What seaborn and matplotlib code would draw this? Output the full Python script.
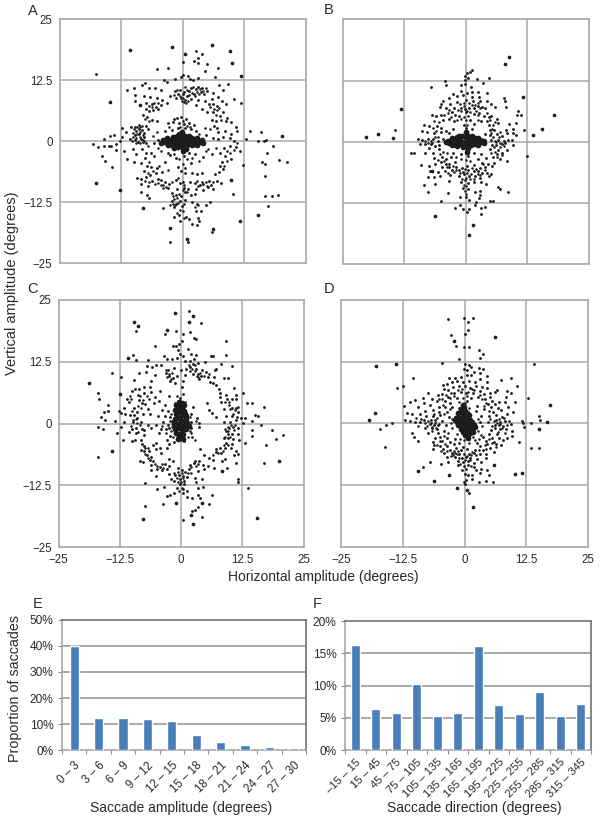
import matplotlib
matplotlib.use("Agg")
import matplotlib.pyplot as plt
import seaborn as sns
import pandas as pd

sns.set_theme(style="white")
plt.rcParams['font.family'] = ['Liberation Sans', 'DejaVu Sans']
plt.rcParams['text.color'] = '#2a2a2a'

# ---- data, degrees ----
A_core = [(-3.2,0),(-2.6,.4),(-2.6,-.5),(-2,.9),(-2,0),(-2,-.9),(-1.4,.5),(-1.4,-.4),(-1.2,1.2),(-1,-1.2),(-.8,0),(-.5,.8),(-.4,-.7),(-.2,1.5),(0,0),(0,-1.4),(.3,.7),(.4,-.6),(.6,1.2),(.8,0),(.8,-1.1),(1.2,.6),(1.3,-.5),(1.8,0),(1.9,.7),(2,-.7),(2.5,.2),(2.6,-.3),(3.1,.1),(-3.6,-.1),(3.5,-.1),(.1,-1.9),(-.1,1.9),(-4,.3),(-4.3,-.3),(3.9,.4),(4.1,-.4),(-3.1,.7),(-3,-.8),(3,.8),(3,-.8),(-.7,1.6),(.7,-1.6),(1.4,1.2),(-1.7,-1.3)]
A_big = [(-10.7,18.7),(-2.2,19.4),(-17.6,-8.5),(-12.7,-9.9),(-8,-13.7),(15.4,-15.1),(11.7,-16.2),(5.9,19.7),(9.6,18.5),(10,16),(.6,18),(11.8,13.4),(-2.6,-17.8),(1,-20),(6.1,-18),(-14.8,8),(20.2,1.2),(9.9,-7.9),(-8.6,7.4)]
A_dots = [(-17.6,13.8),(-2.9,15),(-5.1,14.8),(.1,16.3),(2.8,18.5),(3.2,17.2),(4,17.9),(2.3,16.5),(3.1,16),(4.9,15.9),(4.6,14.5),(7.2,15),(6.6,13.2),(-3.8,12.5),(-3.2,12.1),(-1.6,12.8),(-.3,13.3),(.2,13.6),(1.2,13.5),(1.5,12.8),(2.2,12.6),(3.1,13),(-7.6,12),(-9.8,11),(-8.2,11.5),(-6.8,11),(-5.6,10.9),(-4.4,10.6),(-1.6,10.4),(-1,9.8),(-.5,10.5),(0,9.8),(.4,10.2),(.9,9.3),(1.4,10.4),(1.8,10.9),(2.3,9.8),(2.7,10.8),(3.2,11.2),(3.7,10.2),(4,11),(4.4,9.7),(5,10.4),(6.3,10),(7.4,11.6),(8.3,10.5),(9.2,11.8),(10.4,8.7),(11.8,7.9),(-11.2,10.5),(-9.7,9.6),(-7.8,9.4),(-6.6,9.2),(-5.2,9),(-4.2,8.5),(-2.6,9.4),(-1.3,8.9),(-.4,8.9),(.6,8.5),(1.7,8.8),(3.1,8.6),(4.5,8.2),(5.9,8.8),(7.2,9.1),(8,8.4),(-9.6,8.2),(-7.4,7.8),(-6.2,7.6),(-5.4,7.1),(-4.4,7.5),(-3.2,7.9),(2.8,7.5),(3.9,6.6),(5.3,7.7),(6.2,7.7),(7,7.3),(8.2,6.1),(8.9,7.7),(-7.4,6.6),(-6.8,6.2),(-6,6.4),(-5,6.6),(5,6.1),(6.2,6),(7.6,5.3),(9,4.9),(-8,5.5),(-7.2,5),(-6.2,4.4),(-5.2,4.3),(-1.7,4.6),(-1.1,4.9),(-.4,5),(.7,4.7),(6,4.5),(6.9,4.2),(8.8,4.2),(9.8,3.9),(-8.9,3.4),(-7.5,3.2),(-7,2.5),(-2.9,3.8),(-2,4),(-.8,3.7),(.3,3.6),(1.4,3.8),(2.4,3.3),(6.4,3.2),(7,2.8),(10.9,3),(-12.2,2.8),(-11.5,2),(-10.4,2.9),(-9.6,3),(-9.4,2.2),(-8.9,2.6),(-8.2,2.4),(-7.9,1.7),(-3.5,2.2),(-2.2,2.4),(-.9,2.8),(.6,2.7),(1.8,2.5),(2.7,2.2),(7.3,2),(8.7,2.1),(9.8,1.6),(11.1,2.2),(13.7,2.1),(15.9,1.9),(-9.6,1.3),(-8.8,1.5),(-7.8,.9),(-8.4,.5),(-9.6,.4),(-9,-.1),(-8.1,-.2),(-7.4,-.3),(-10.7,.6),(-12.2,1),(-14,1.4),(-14.7,1.1),(-16,.5),(-12.8,.2),(-5,.4),(-5.8,-.3),(4.7,1.3),(6.1,.8),(7.2,.6),(8.3,1),(9.6,.8),(10.4,.2),(12.9,.5),(15.3,.1),(16.5,.2),(17,.3),(-18.2,-.6),(-17.2,-1.1),(-16,-1),(-15,-.9),(-14.6,-1),(-13.6,-.5),(-13.5,-1.7),(-16.4,-2.9),(-15.7,-4),(-14.4,-5.3),(-11.9,-2),(-11.3,-3.6),(-10.1,-1.6),(-9.5,-2.5),(-8.3,-1.6),(-7.5,-2.3),(-9.8,-4.2),(-8.4,-4.5),(-7.6,-3.4),(-6.4,-2.3),(-5.8,-3),(-3,-2.3),(-2.6,-2.8),(-1.4,-3.4),(0.4,-3),(1.4,-2.4),(2.6,-2.6),(4.2,-3.1),(6,-2.5),(7.6,-2.3),(8.4,-1.4),(9.6,-.9),(10.8,-1.2),(11.6,-2),(8.6,-3),(9.8,-3.6),(8.1,-4.1),(-7.3,-5),(-6.4,-5.2),(-5.2,-5.4),(-3.6,-4.3),(-1,-5.2),(.6,-5.5),(1.7,-4.4),(7.6,-5),(8.2,-5.7),(12.3,-4.9),(16.1,-4.3),(16.7,-4.7),(19.6,-3.7),(21.2,-4.2),(18.3,-1),(17.1,-2.4),(-7.8,-6),(-6.6,-6.8),(-5.4,-6.5),(-4.2,-6.3),(-.4,-6),(.6,-6.5),(2,-6.4),(3,-6.6),(4,-6.4),(6.7,-6.6),(7.4,-6.2),(16.7,-7),(-9.3,-7.5),(-8.4,-7.6),(-7.4,-7.2),(-6.2,-8),(-5,-7.6),(-4.3,-7.8),(-3.6,-8.3),(-2.8,-8.8),(-1.4,-7.9),(-.6,-8.6),(.2,-8.3),(1.5,-8.4),(2.6,-8.6),(3.6,-8.9),(4.2,-8.7),(5.4,-8.1),(5.7,-9),(7.1,-8),(7.9,-8.6),(-8.4,-8.8),(-7,-9.2),(-3,-9.6),(-1.2,-9.7),(.3,-9.6),(1.2,-9.7),(2.8,-9.8),(4.2,-10),(5.2,-9.4),(6.2,-9.8),(10.2,-10.8),(16.8,-11.1),(18.2,-11.2),(19.4,-10.9),(-8.4,-10.4),(-7.2,-11),(-6.8,-11.5),(-2.2,-10.6),(-1.4,-11),(-.4,-11.2),(.6,-10.4),(1.8,-11),(2.6,-10.8),(17.3,-13.3),(-2.2,-12.2),(-1.4,-12.8),(-.5,-12.2),(.6,-12),(2,-12.4),(3,-12.8),(5.5,-12.4),(-4,-13.6),(-1.8,-13.4),(-.2,-13.2),(2.8,-14.3),(3.8,-14.2),(4.8,-13),(-1.8,-15.5),(-.8,-15),(.8,-15.4),(1.4,-15.8),(3.2,-15.6),(-.6,-16.2),(1.9,-17),(3,-17.2),(3.4,-16.2),(-2.5,-20.5),(1.2,-20.6),(6,-18.5)]
A_more = [(-1.8,9.6),(-1.2,10.6),(-.6,9.4),(.2,9),(.6,11.2),(1,10.6),(1.3,9.6),(1.9,10),(2.2,11.1),(2.5,9.4),(2.9,10.2),(3.4,9.7),(3.5,10.8),(4.2,10.4),(4.7,11),(-.2,8.3),(.4,8),(.8,7.8),(1.1,8.2),(-9.9,2.5),(-9.2,3),(-8.6,3),(-8.2,3.2),(-10,1.8),(-9.3,1.6),(-8.6,2),(-8.1,1.4),(-10,1),(-9.4,.8),(-8.7,.9),(-8,.4),(-10.2,.1),(-9.4,-.3),(-8.6,-.4),(-7.8,.2),(-6.9,7.2),(-6.3,7),(-5.7,7.9),(-5,7.8),(-7.6,4.6),(-6.8,4.2),(5.6,7),(6.4,6.6),(7,6.4),(7.4,6.8),(6.8,5.4),(7.9,4.4),(-.6,3),(0,4.2),(.9,3.2),(1.6,3),(-7.6,-8),(-6.8,-8.4),(-5.6,-8.8),(-5,-8.6),(-4.4,-8.9),(-3.9,-9),(-3.4,-9.4),(-4,-9.5),(-2.1,-8.2),(-.9,-7.4),(3,-8.1),(3.2,-9.2),(3.9,-8.2),(4.7,-8.4),(5,-9.2),(6.3,-8.4),(-1.8,-11.8),(-1.1,-11.6),(-.9,-12.6),(-2,-12.9),(-2.5,-13),(-1.5,-13),(-2,-11.2),(-.7,-10.8),(0,-10),(.4,-9),(.9,-10.4),(-.5,-14),(.1,-14.2),(-1.2,-14.6),(.3,-12.8),(.3,-15.6),(3.2,-13),(2.6,-13.4),(10.4,-1.8),(11,-.4),(9.6,-2.4),(9,-4),(8.5,-5),(9,-2),(-7,-.9),(-6.8,-4.2),(-7.1,-6.5),(-6,-6),(-4.8,-5),(-3,-5.8),(-1.7,-2.5),(-.8,-3.6),(0,-4.6),(.9,-3.5),(2,-3.4),(3.4,-4),(4.8,-2),(5.2,-1.6),(6.8,-1.4),(-4.4,-2),(-5,-1.4),(-6,1.1),(-5.2,2),(-2.8,3),(3.4,1.6),(4.6,2.7),(5.5,2.5)]

B_core = [(-3,0),(-2.4,.5),(-2.4,-.4),(-1.8,.9),(-1.8,0),(-1.8,-.8),(-1.1,.4),(-1.1,-.5),(-.8,1.1),(-.6,-1.1),(-.3,0),(0,.9),(0,-.8),(.2,1.4),(.4,-1.3),(.5,0),(.9,.7),(1,-.7),(1.4,.1),(1.8,.7),(1.9,-.5),(2.4,.1),(2.9,.3),(3,-.1),(-3.6,.2),(-3.4,-.3),(.1,2),(.2,-2),(-2.8,.7),(-2.8,-.7),(2.4,.8),(2.4,-.7),(-1.3,1.2),(1.3,1.1),(3.5,.2),(3.7,-.2),(-4,0)]
B_big = [(18,5.4),(15.6,2.7),(-13.2,6.7),(-20.2,1),(-17.8,1.6),(-14.8,.7),(8.9,17.4),(7.9,15.9),(-6.2,-15.1),(1.4,-17),(.7,-19),(11.7,9.2),(13.6,1.4),(-6.9,-5.9)]
B_dots = [(-14.4,2.4),(.2,14),(.8,14.3),(1.2,14.6),(-.2,13.4),(.5,13),(-.1,12.6),(2.3,12.8),(4.7,13),(3.5,12),(-4.2,12.5),(-7,11.1),(-4,11.6),(-1,11.7),(-.1,11.8),(1.1,11.2),(2.4,10.2),(-1,10.4),(.2,10),(1.3,10.2),(-2.5,9.8),(4.3,9.9),(7.7,8.9),(7.9,8.4),(-3.4,9),(-1.8,9.4),(-.6,9.6),(1.3,9.2),(2.7,9.2),(-5.1,7.8),(-4.7,8.4),(-3.2,7.8),(-1.8,8.2),(0,8.5),(1.4,8.4),(3,8.3),(4.3,8.4),(5.1,7.8),(-5.3,7.1),(-4,7),(-2.4,6.8),(-1,7),(-.2,6.6),(.6,7),(1.6,6.8),(2.4,7.3),(3.3,7.1),(4,6.8),(6,7.2),(8.1,7.2),(10.6,6.3),(-6.9,5.4),(-6,5.2),(-5,5.4),(-2.7,6),(-2.2,5.4),(-1.4,5.2),(0,6),(1.6,5.6),(2.8,5.9),(3.7,5.2),(4.8,5.1),(5.2,5.2),(6.4,4.7),(10.4,5.5),(11.2,5.4),(-4.6,4.4),(-3.4,4.6),(-2.4,4.2),(-.4,3.5),(.8,4.4),(1.7,3.7),(3.2,4.2),(4.4,4.2),(4.7,3.4),(6.6,3.8),(8.8,3.6),(10.3,3.8),(-8.4,3.4),(-7.4,3.2),(-5.8,3.2),(-5,2.9),(-4.1,2.2),(-5,1.9),(-2.5,2.6),(.1,2.8),(1.2,2.6),(5,2.4),(5.8,2.4),(8.2,2.4),(9.6,2.6),(11.8,2.5),(-8.9,2.2),(-7.8,1.9),(-6.4,1.8),(-3.4,1.8),(4,1.6),(4.9,1.4),(6.4,1.6),(7.3,1.2),(8.4,1.8),(9.7,1.7),(10.2,1.4),(-9.6,.6),(-8.8,.4),(-7.6,.5),(-6.6,.5),(-5.7,.2),(-4.6,.5),(4,.4),(5.2,.4),(6.6,.4),(7.7,.2),(8.6,.3),(9.5,.4),(-9.3,-.4),(-8.2,-.4),(-7,-.5),(-6.2,-.8),(-5.4,-.6),(5.3,-.6),(6.2,-.7),(7.4,-.5),(8,-.3),(9.6,-.6),(-7.4,-1.2),(-5.4,-1.5),(5,-1.5),(6.5,-1.6),(8.4,-1.6),(12.5,-2.9),(-11.2,-2.2),(-10.6,-2.2),(-8.2,-2.4),(-6.6,-2.3),(-2.6,-2.4),(-1,-2.6),(.4,-3),(1.6,-2.4),(3.2,-2.5),(6.3,-2.6),(7.4,-2.2),(-6.4,-3.4),(-4.8,-3.2),(-4,-3.5),(-3,-3.1),(2.6,-3.6),(4.2,-3.4),(5.5,-3.1),(7,-3.5),(-6.2,-4.5),(-5,-4.2),(-4.1,-4.6),(-3.4,-4.5),(-2.2,-4.1),(3.4,-4.4),(4.6,-4.6),(5.8,-4.3),(8.3,-4),(-9,-4.8),(-7.4,-5),(-4.8,-5.2),(-3.4,-5.2),(-2,-5.1),(-.8,-5.3),(.2,-4.9),(1.6,-4.8),(3,-5.3),(4,-5.1),(5.4,-5),(-7.2,-6),(-5.6,-6.2),(-4.3,-6),(-2.8,-5.7),(-1.4,-5.8),(-.6,-6.1),(.5,-5.8),(1.6,-6),(2.6,-6),(3.4,-6.4),(4.4,-6.3),(-7.7,-7.2),(-6.4,-7.2),(-5.2,-7),(-3.1,-6.8),(-1.4,-7),(-.4,-6.6),(.6,-7),(1.9,-7.1),(2.9,-7.4),(4.8,-7.1),(5.2,-6.6),(-8.4,-8.9),(-6.3,-8.7),(-3.4,-8),(-1,-8.3),(-.2,-7.8),(.4,-8.5),(1.6,-8.2),(3.2,-8.2),(4.2,-8.7),(6.5,-9.3),(6.9,-9.6),(-7.6,-10.2),(-3.6,-10.5),(-.6,-9.4),(.5,-9.6),(1.8,-10.3),(3,-10),(3,-10.9),(8.5,-10.2),(-5.1,-12.1),(-1.2,-11.3),(0,-11.2),(.6,-11.9),(2.1,-12.4),(2.7,-11.6),(5,-12.2),(5.5,-12.2),(-2.2,-13.5),(-1.2,-13),(-.5,-13.7),(.6,-13.8),(1.8,-12.9),(3.1,-13.6),(4,-13.3),(.3,-14.4),(3.1,-14.8)]
B_more = [(-1.6,6.4),(-.9,6.2),(-.4,7.4),(.2,6.2),(.8,6),(1.2,7.6),(2,6.2),(2.4,5.4),(3,6.8),(-1.2,7.8),(-.4,8),(.6,8),(1.8,7.6),(2.6,7.9),(-3.6,5.8),(-3,5),(-4.4,5.4),(4.4,5.8),(5,4.4),(5.6,3.4),(6,4),(5.4,2.6),(-6.4,4.2),(-5.4,4),(-6.6,2.8),(-6,2.2),(-5.6,1),(-6.2,1),(-6.8,-.2),(-7.6,-.3),(-8.2,.2),(-7,.1),(6,.2),(6.8,1),(5.6,1),(5.2,1.8),(7,2),(6.2,-.1),(7,-.3),(5.8,-1),(7,-1),(7.8,-.9),(6,-2),(5.2,-2.4),(6.4,-3.2),(7.4,-2.8),(.3,3.4),(.1,4.4),(-.9,4.6),(-.3,5),(.5,5.2),(-1,-3.6),(0,-3.8),(.8,-3.9),(-2,-3.2),(-3.8,-2.2),(-4.6,-2),(-5.2,-2.6),(-5.6,-3.8),(-4.4,-4),(-3.8,-5.2),(-2.6,-5),(-1.9,-5.8),(-1.2,-6.3),(-.1,-5.6),(.2,-6.4),(1,-6.5),(1.2,-5.4),(2,-5.6),(2.4,-6.6),(3,-6.8),(.1,-7.4),(.9,-7.6),(-.8,-7.6),(1.6,-7.7),(-.3,-8.8),(.1,-9.1),(-.2,-10),(.1,-10.6),(-2.4,-6.2),(-3.6,-6.4),(4,-5.8),(3.6,-4.6),(-3.3,6.4),(-1.8,4.4),(2.6,4.4)]

C_core = [(-.9,3),(-.4,3.8),(.2,3.2),(.6,2.6),(-1.1,2),(-.4,2.4),(.2,1.8),(.9,1.6),(-1.3,.9),(-.6,1.2),(0,.7),(.7,.6),(1.2,.2),(-1.4,-.1),(-.7,0),(-.1,-.3),(.6,-.4),(-1.2,-1),(-.5,-.9),(.2,-1.2),(.9,-1.1),(-1,-1.9),(-.3,-2),(.4,-2),(-.5,-2.7),(.2,-2.8),(-.5,4.4),(.1,4.1),(-1.5,.3),(1.5,-.5),(-1,3.7),(.5,3.7),(-.2,2.9),(-1.2,2.8),(.7,2),(-.2,-2.6),(-.7,-3.2),(.3,-3.2),(1,.9),(-1,-.4)]
C_big = [(-18.9,8.3),(-9.6,20.5),(-8.9,19.7),(-1.3,22.3),(2.4,21.7),(1.6,20.6),(-3,19),(-7.7,-19.2),(15.5,-19),(2.4,-20.2),(-14.2,-5.5),(19.9,-7.5),(-10.9,13.2),(-12.4,6),(1.9,-18.5),(4.2,-16),(-1,-16),(8.3,-9.6)]
C_dots = [(1.5,22.8),(-9.2,18.7),(4.1,20.3),(-16.9,-6.8),(20.7,-2.3),(16.8,-7.9),(9.1,16.7),(9.2,13.9),(-3.4,18.2),(-1,18.8),(.4,18.2),(1.8,18.5),(2.7,17.4),(3.1,17.2),(.2,16.8),(-.4,16.2),(-1,15.8),(-1.6,15.7),(-.6,14.8),(1.4,15),(-5.3,15.6),(-9.9,13.9),(-9.3,12.9),(-.3,14),(.4,13.7),(2.1,14),(3.1,13.9),(6,13.6),(6.5,13.7),(-3.5,13.6),(-2.8,13),(-1.8,13.1),(-.8,13.3),(.8,12.7),(1.7,12.6),(2.6,13),(3.4,12.2),(4.8,12.4),(8.2,12.1),(10.4,11.7),(-6.8,12.9),(-7,11.6),(-6,11.5),(-5.2,11.9),(-4.2,11.9),(-2.6,10.9),(-1.4,11.2),(0,10.8),(.9,11),(1.8,11.4),(2.4,12),(3,11.1),(4.2,10.8),(5,10.4),(6.8,10.8),(7.1,11),(-14.2,10.3),(-12.3,9.5),(-8.6,10.2),(-7.2,10.4),(-5.4,9.8),(-3.2,10.2),(-2.4,9.6),(-1.6,9.2),(-.9,9.6),(.8,9.8),(2.4,10),(3.5,10),(4,9.6),(5.4,9.4),(6.6,9.5),(8.8,9.2),(9.6,9.2),(-9.6,8.8),(-6.2,8.6),(-2.2,8.6),(-1.3,8.2),(.4,8.6),(3.6,9),(5.8,8.4),(6.4,8.2),(7,7.8),(-9.4,7),(-8.6,7.1),(-7.6,7.5),(-6.4,7.4),(-6.2,6.4),(-4.3,6.7),(.2,7.4),(7.7,7),(8,6.1),(10.8,7.2),(-10,6.6),(-7.6,6.2),(-8.8,5.8),(-5.4,5.4),(-4.6,4.6),(-2.4,5.6),(-.2,5.2),(.4,5.9),(7.9,5.4),(9.2,5.8),(11.2,5.8),(11.2,5),(-16.9,6.2),(-16.8,4.9),(-11,4.9),(-10.6,4.4),(-8.6,4.8),(-8,4.2),(-7.4,4),(-5.6,4.2),(-3.4,3.8),(5.2,4.2),(8.2,4.4),(9.4,5),(10.4,5),(12.6,6.2),(13.4,4.2),(14.5,4.2),(-14.9,3.8),(-15,2.6),(-11.6,3.2),(-9.6,3.2),(-9,2.4),(-6.8,3),(-4,2.8),(-2.6,2.6),(2.4,3.4),(5.6,2.8),(6.2,2.1),(8.8,3),(10.4,3.2),(11.2,3.1),(11.6,2.4),(16.8,3.4),(-16.4,1.4),(-15.7,2.3),(-12.6,2.6),(-12.2,2.1),(-11.4,1.9),(-10.4,1.8),(-9.6,1.8),(-9,1.2),(-7.8,1.9),(-6.3,2),(-4.8,1.6),(-3.4,1.5),(-2.2,1.4),(1.9,2),(3.2,1.2),(7.2,1.4),(9.1,1.6),(10.4,1.5),(11.4,1.4),(12.2,1.2),(13,1.1),(15.6,1.6),(15,1.7),(-15.6,.8),(-13.6,.6),(-11.6,.4),(-9.8,.4),(-8.2,.4),(-6.8,-.2),(-5.2,-.3),(-3.8,.3),(-2.6,-.2),(2,.4),(3.6,.2),(8.8,.3),(10,.4),(11.2,.8),(12.6,.2),(14.5,.6),(-16.9,-.7),(-15.9,-1.1),(-12.2,-.6),(-10,-1.1),(-9.2,-.8),(-8,-1),(-7.6,-1.3),(-6.2,-.9),(-4.2,-1),(-3.2,-1.1),(-2.5,-.8),(2,-.8),(3.7,-.7),(9.8,-.9),(10.6,-.6),(11.6,-.9),(16.2,-.3),(-13.2,-1.9),(-10.6,-1.7),(-9.2,-1.9),(-7.6,-2.2),(-4.6,-1.8),(-2.2,-2.4),(2.2,-2.6),(9.2,-1.4),(9.6,-2),(10.4,-2),(11.6,-2),(14.5,-1.2),(14.4,-2.4),(18.6,-1.3),(-11.9,-3.3),(-10,-3.5),(-9.4,-3.4),(-8.2,-3.3),(-3,-3.4),(-1.4,-3.7),(.6,-3.6),(8.7,-3),(9.6,-3),(10.6,-3.2),(11.7,-3.3),(19.4,-3.1),(-8.1,-4.2),(-7.6,-4.6),(-5.8,-4.4),(-5.2,-4),(-2.4,-4.2),(9.2,-3.9),(10.4,-4.2),(13,-4),(17.4,-4.4),(-8.2,-5.4),(-7.6,-5.6),(-6.6,-5.6),(-5.2,-5.2),(-4.4,-4.9),(-3,-5),(3.8,-5.2),(7.2,-5.1),(8,-5),(8.9,-5),(10.2,-5),(11.2,-5.6),(-7,-6.4),(-6.2,-6.8),(-4.2,-6),(4.7,-6.4),(7,-5.8),(8.2,-6),(10.8,-6.4),(11.6,-6.2),(-8.4,-7.5),(-7.8,-7.7),(-6.4,-7.4),(-5.8,-7.6),(-2.4,-7.2),(-1.6,-7.5),(2.8,-7.6),(3.6,-7.6),(5.6,-7),(6.4,-7.3),(8.4,-7.5),(9,-7.2),(11.1,-8),(-6.2,-8.4),(-4.4,-8.8),(-3.4,-8.2),(-2.4,-8.6),(1.8,-8.4),(2.6,-8),(4.5,-8.4),(5.4,-8.5),(9.3,-9),(-6.2,-9.4),(-5,-9.2),(-4,-9.4),(-3,-9.2),(-.6,-9),(.2,-9.4),(.8,-9.8),(1.6,-9.2),(3.4,-9.6),(4.6,-9.2),(6.6,-9),(-5.2,-10.6),(-2.4,-10.2),(-1.2,-10.4),(-.4,-10.4),(.3,-10.6),(1.2,-10.8),(2.8,-11),(-2,-11.2),(-1.4,-11.6),(-.2,-11.2),(.6,-11.6),(4.2,-11.2),(-7.4,-12),(-.3,-12.2),(.6,-12.2),(3,-11.8),(11.5,-11.1),(11.5,-11.7),(-.8,-13),(.4,-13.2),(-4.9,-13.3),(-3.6,-12.8),(.4,-14),(-1.4,-14),(1.2,-13.6),(3.4,-13),(4.4,-12.8),(13.6,-13),(-2.2,-14.4),(-2.8,-14.6),(1.2,-14.8),(2.2,-15),(3.4,-14.4),(6.3,-14.5),(3.8,-15),(-3.8,-16.2),(2.2,-17.6),(2.8,-17.5),(3.4,-16.8),(.3,-19.5),(4.2,-18.9),(-7.4,-16.7),(5.6,-16.3)]
C_more = [(-1.9,.6),(-1.9,-.6),(-2,1.9),(1.8,1.4),(1.7,-1.4),(-1.7,-2.8),(1.4,-2.6),(-1.2,4.1),(-.9,5.5),(.8,4.3),(-3.2,10.9),(-2.8,9.4),(-2.4,10),(-2,9),(-1.9,10.3),(1.8,10.6),(2.8,10.6),(3.2,9.6),(3.5,9.4),(3.9,10.3),(4.6,9.6),(5.6,10),(2.2,11),(2.8,11.8),(1.5,11.8),(-10.2,5),(-10.4,5.6),(-8.4,5.6),(-8.2,3.2),(-8.8,3.6),(-10,2.6),(-9.2,1),(-9.8,.8),(-10.3,-.4),(-9,.1),(-8.4,-.3),(-8.8,-1.6),(10.2,-.2),(9.6,-.6),(9,-1),(9.5,-1.5),(9,-2.6),(10,-2.6),(10.8,-1.2),(11,-.2),(10.6,2),(10.9,2.7),(11.6,3.4),(9.8,3.8),(8.5,-5.6),(7.5,-6),(8.8,-4.4),(9.6,-4.4),(6.5,-6.3),(-7.4,-5),(-7.4,-6.2),(-6.7,-6.9),(-6.8,-5),(-5.4,-8.2),(-4.9,-8.6),(-4,-8.2),(-3.8,-9),(-1.4,-10),(-.6,-9.8),(.2,-10),(-.8,-11),(0,-11.7),(.4,-11),(-.6,-11.8),(.2,-13),(-.4,-13.6),(2,-8.8),(3,-8.6),(3.4,-8.2),(1.3,-10),(2,-10),(-7,5.6),(-6.6,5),(-7.8,4.8),(8.9,4.4),(9.8,4.4),(10,3),(-4,-.4),(-2,-1.4),(-2.2,.6),(2,-1.8),(2.8,-3.4),(3,.6),(-3.2,-1.8)]

D_core = [(-.8,3),(-.2,3.4),(.2,2.6),(-1.4,2.2),(-.6,2.1),(.2,1.8),(.9,1.7),(-1.8,1.2),(-1.1,1.2),(-.3,1.1),(.5,.9),(1.2,.8),(-1.6,.4),(-.8,.3),(0,.1),(.8,.1),(1.5,.3),(-1.3,-.4),(-.5,-.5),(.3,-.6),(1.1,-.5),(1.9,-.4),(-.8,-1.1),(0,-1.2),(.8,-1.3),(1.6,-1.2),(-.3,-1.8),(.5,-1.9),(1.2,-1.9),(.2,-2.4),(-.5,2.7),(.5,2.2),(-1.9,.7),(2.2,-.8),(1.7,-1.7),(.8,-2.4),(-.3,3.8),(.7,-2.9)]
D_big = [(-18,11.6),(-13.9,12.1),(6.2,17.5),(-2.1,16.8),(-9.5,-9.7),(10.3,-10.3),(11.7,-10.1),(-19.4,.7),(-18.2,2.1),(17.4,3.7),(16.8,.3),(15.1,-1.1),(1.8,-16.9),(-1.6,-13.1),(.5,-13.4),(-6.1,-11.6),(5.9,-8.5),(-3.2,-10.4)]
D_dots = [(-3.4,21.2),(-.2,21.4),(1.7,21.4),(.8,20.5),(.8,19),(.2,18.1),(-2.7,18),(-1.7,15.7),(-.2,15.4),(.9,15.4),(3,14.9),(3.7,14.1),(3.2,13.3),(-1.1,13),(-4.5,12.3),(14,12),(.9,-14.1),(-8.4,-8.8),(-17.2,-1.1),(-16.1,-4.7),(-15.9,-.3),(-14.7,.2),(15.1,1.6),(15.3,.7),(13.4,-4.9),(15.1,-5),(12.9,5.1),(10.7,7.6),(9.5,9.3),(-10.5,9.3),(-12.4,7.6),(-13.6,7.2),(.2,12),(.9,11.9),(1.3,11.4),(-.2,11),(3,11.2),(3.7,11),(.6,10.8),(2,10.4),(-3.2,9.2),(-2,9.3),(-.8,9.4),(.5,9.8),(1.4,9.8),(3.2,10.2),(4.6,9.6),(7.4,8.9),(-2.6,8.4),(-1.6,8.6),(-.4,8.4),(.9,8.6),(2.2,8.5),(3.1,9),(4.6,8.4),(-4.4,7.8),(-3.6,8),(-2.4,7.4),(-1.1,7.5),(.2,7.6),(1.2,7.2),(2.4,7.6),(3.6,7.4),(4.6,7.2),(6.6,6.7),(8.6,6.6),(9.4,6.2),(-4.2,7),(-3.4,6.8),(-2.2,6.2),(-.8,6.4),(.4,6.2),(1.8,6.2),(3.2,6.6),(3.9,6),(5.2,6.2),(6.2,6.4),(8.4,5.4),(-7.4,6.2),(-5.4,5.8),(-4.6,6),(-3.4,5.4),(-1.6,5.1),(1.4,5.2),(2.8,5.4),(4.2,5),(5.2,5.4),(-8.4,5.2),(-6.6,5),(-5.6,4.6),(-4,4.6),(-3,4.2),(.5,4.6),(4.8,4),(5.6,4.6),(7,4.3),(8.2,4.4),(10.2,4.4),(-11,4.4),(-10,4.8),(-8.2,4.2),(-7,3.8),(-5.2,3.4),(-4,3.4),(-2.6,3.4),(2.6,3.6),(5.4,3.4),(6.2,3.9),(6.8,3.2),(8.9,3.4),(-12.2,3.6),(-9.4,3.4),(-8,2.6),(-6.4,2.8),(-5.2,2.4),(-3.6,2.4),(2.4,2.6),(4,2.9),(5.8,2.4),(7.4,2.8),(9.8,2.4),(-11.6,2.1),(-10.6,2),(-9,2),(-7.8,1.6),(-6.4,1.5),(-5,1.8),(-3.2,1.4),(3.4,1.6),(5,1.6),(6.4,1.7),(7.6,1.4),(8.6,1.9),(-12,.8),(-11,.5),(-10,.4),(-9,.4),(-8.2,.8),(-6.8,.8),(-6,.7),(-4.6,.6),(3.2,.4),(4.8,.4),(6.4,.8),(7.2,.4),(8.2,.6),(11.7,.6),(11.8,.1),(13.4,.2),(-7,-.2),(-6.2,-.3),(-5.4,-.4),(-3.8,-.3),(6.2,-.3),(6.9,-.4),(7.8,-.5),(9.4,-.2),(12,-.7),(-8,-1),(-6.6,-1),(-5.6,-1.2),(5.4,-1.4),(6.2,-1),(7.2,-1.2),(8.4,-1.2),(9.6,-1.6),(-10.6,-2),(-7.4,-2),(-5.4,-2),(-4.2,-1.6),(5,-2.2),(6.6,-2.1),(9.7,-2.6),(-10.2,-2.8),(-6,-3),(-5,-2.8),(-3.6,-3),(-2,-3.2),(3.8,-2.8),(5.6,-3),(7,-3),(8.6,-3),(-9.5,-3.6),(-6.4,-3.8),(-4.6,-3.6),(-3,-3.8),(-1.2,-4),(2.6,-4),(4.4,-3.6),(6,-3.8),(7.8,-3.4),(11,-3.8),(-6.2,-4.4),(-5,-4.6),(-3.6,-4.5),(-2.2,-4.2),(-.4,-4.8),(3.2,-4.6),(4.6,-4.2),(6.4,-4.2),(7.4,-4.4),(-6.3,-5.2),(-4.4,-5.2),(-3,-5.4),(-1.8,-5),(-.8,-5.4),(.6,-5.2),(2.2,-5.4),(3.7,-5.4),(5.2,-4.9),(-4.2,-6),(-2.6,-6),(-1.2,-6.2),(-.2,-6.1),(1,-6.2),(2,-6),(3.2,-6.2),(4.4,-6.1),(6,-5.8),(-3.6,-6.8),(-2,-6.8),(-.6,-7),(.4,-6.8),(1.2,-7),(2.6,-7.1),(4.4,-7),(-6.9,-7.8),(-4.8,-8.2),(-3.4,-7.8),(-1.4,-7.6),(-.4,-7.8),(.8,-7.6),(1.9,-7.9),(3.4,-7.7),(-1.4,-8.4),(-.2,-8.6),(.7,-8.4),(2,-8.8),(-.6,-9.4),(.4,-9.2),(2.4,-9.4),(3.4,-9.2),(4.6,-9.4),(0,-10.2),(.8,-10.4),(1.6,-10.4),(3.1,-10),(5,-10.5),(.3,-11.4),(1.6,-11.2),(2.9,-11.8),(4.3,-11.6),(5.8,-11.8),(-.2,-11.9),(.2,-12.3)]
D_more = [(-6.8,.2),(-6,.1),(-5.8,-.9),(-6.5,-.7),(-5.2,-.1),(-7.3,.6),(-5.6,1.2),(-6.2,1.9),(5.2,.9),(5.9,.5),(6.6,.2),(7.2,-.2),(7,.9),(5.6,-.5),(7.6,-1),(6.8,-1.7),(-1.6,-6.2),(-2.2,-5.6),(-2.4,-6.4),(-1.9,-5.9),(-1.3,-5.6),(-1.1,-7),(-2.8,-6.6),(.6,-6.6),(1.4,-6.3),(1.6,-5.7),(2.4,-6.4),(.2,-7.4),(1.1,-7.4),(-.9,-8.1),(1.4,-8.6),(-3,5.1),(-2.2,5.6),(-1.4,6.8),(-.6,7),(.8,6.4),(1.6,7),(2,6.8),(3.2,5.8),(3.6,5),(4,3.6),(4.4,4.2),(5,2.6),(-4.6,5),(-5.2,5),(-3.8,5.8),(-2.8,6.2),(-4.4,3.8),(-4.2,2),(-3,3),(-3.4,-2),(-4.2,-2.6),(-5,-3.6),(-5.5,-4.3),(-4,-4.2),(-4.8,-5.6),(-3.6,-5.6),(3,-3.2),(3.4,-2.4),(4.2,-4.4),(4.9,-3.2),(5.6,-4),(3,-5.4),(4.4,-5.2),(2.8,1),(3.6,-.6),(2.8,-1.6),(-2.6,1),(-2.6,-1),(-2.8,.2),(-1.2,3.2),(.9,3.2),(.2,4.1),(.6,5.6),(-.4,5.2),(-1.2,4.4),(-1.6,-2.2),(-.9,-3.1),(-.2,-3.4),(1.8,-2.8),(2.2,-3.4),(.9,-4),(-7.6,-.6),(-8,.2),(-8.8,1),(-9.8,1.2),(-9.4,-.6),(8,1.2),(9,.6),(8.6,-.4),(8.2,-2),(6.4,-4.8),(-6.6,-1.6)]

E_labels = ["0 – 3","3 – 6","6 – 9","9 – 12","12 – 15","15 – 18","18 – 21","21 – 24","24 – 27","27 – 30"]
E_values = [40,12.2,12.4,12,11,5.8,3,1.9,1,.9]
F_labels = ["–15 – 15","15 – 45","45 – 75","75 – 105","105 – 135","135 – 165","165 – 195","195 – 225","225 – 255","255 – 285","285 – 315","315 – 345"]
F_values = [16.3,6.3,5.8,10.3,5.3,5.8,16.2,6.9,5.6,9,5.3,7.2]

W, H = 602, 821
fig = plt.figure(figsize=(W/100, H/100), dpi=100, facecolor='white')

def add_ax(x0, x1, y0, y1):
    return fig.add_axes([x0/W, 1-y1/H, (x1-x0)/W, (y1-y0)/H])

TXT = '#2a2a2a'
def scatter_panel(box, core, dots, more, big, xt, yt):
    ax = add_ax(*box)
    ticks = [-25,-12.5,0,12.5,25]
    for t in ticks[1:4]:
        ax.axvline(t, color='#a8a8a8', lw=1.1, zorder=0)
        ax.axhline(t, color='#a8a8a8', lw=1.1, zorder=0)
    for pts, s in ((more, 3.4), (dots, 4.2), (big, 7), (core, 17)):
        df = pd.DataFrame(pts, columns=['h', 'v'])
        sns.scatterplot(data=df, x='h', y='v', ax=ax, s=s, color='#1c1c1c',
                        linewidth=0, zorder=3, legend=False)
    ax.set_xlim(-25, 25); ax.set_ylim(-25, 25)
    ax.set_xlabel(''); ax.set_ylabel('')
    labels = ['−25','−12.5','0','12.5','25']
    ax.set_xticks(ticks); ax.set_yticks(ticks)
    ax.set_xticklabels(labels if xt else []); ax.set_yticklabels(labels if yt else [])
    ax.tick_params(length=0, labelsize=8.3, labelcolor=TXT, pad=5)
    for s in ax.spines.values():
        s.set_color('#a8a8a8'); s.set_linewidth(1.2)
    return ax

scatter_panel((59.5,305.5,19.5,263.5), A_core, A_dots, A_more, A_big, False, True)
scatter_panel((342.7,588.7,19.5,264), B_core, B_dots, B_more, B_big, False, False)
scatter_panel((58.7,303.7,300,547.3), C_core, C_dots, C_more, C_big, True, True)
scatter_panel((341,588,300,547), D_core, D_dots, D_more, D_big, True, False)

def bar_panel(box, labels, values, ymax, step, width, xsize, xpad):
    ax = add_ax(*box)
    df = pd.DataFrame({'bin': labels, 'p': values})
    sns.barplot(data=df, x='bin', y='p', ax=ax, color='#4a7ebb', saturation=1, width=width, zorder=3)
    ax.set_xlim(-.5, len(labels)-.5); ax.set_ylim(0, ymax)
    ax.set_xlabel(''); ax.set_ylabel('')
    yt = list(range(0, ymax+1, step))
    ax.set_yticks(yt); ax.set_yticklabels([f'{v}%' for v in yt])
    for v in yt[1:-1]:
        ax.axhline(v, color='#989898', lw=1.2, zorder=1)
    ax.set_xticks(range(len(labels)))
    ax.set_xticklabels(labels, rotation=45, ha='right', rotation_mode='anchor')
    ax.set_xticks([i-.5 for i in range(len(labels)+1)], minor=True)
    ax.tick_params(axis='x', which='major', length=0, labelsize=xsize, labelcolor=TXT, pad=xpad)
    ax.tick_params(axis='x', which='minor', length=3, width=.8, color='#8a8a8a', bottom=True)
    ax.tick_params(axis='y', length=3, width=.8, color='#8a8a8a', left=True, labelsize=8.6, labelcolor=TXT, pad=3)
    for n, s in ax.spines.items():
        s.set_linewidth(1.1)
        s.set_color('#a0a0a0' if n in ('left','bottom') else '#666666')
    return ax

bar_panel((62,306,620,750), E_labels, E_values, 50, 10, .38, 8.3, 7)
bar_panel((345,591,621,750), F_labels, F_values, 20, 5, .42, 8.1, 5)

def px_text(x, y, s, size, **kw):
    fig.text(x/W, 1-y/H, s, fontsize=size, ha='center', va='center', color=TXT, **kw)

for x, y, s in [(33,11,'A'),(329,10,'B'),(33,289,'C'),(329,289,'D'),(38,604,'E'),(317,604,'F')]:
    px_text(x, y, s, 10.5)
px_text(323, 577, 'Horizontal amplitude (degrees)', 10)
px_text(12, 283, 'Vertical amplitude (degrees)', 10.5, rotation=90)
px_text(15, 688, 'Proportion of saccades', 10.3, rotation=90)
px_text(181, 808, 'Saccade amplitude (degrees)', 10)
px_text(474, 808, 'Saccade direction (degrees)', 10)

fig.savefig('out.png', dpi=100, facecolor='white')
